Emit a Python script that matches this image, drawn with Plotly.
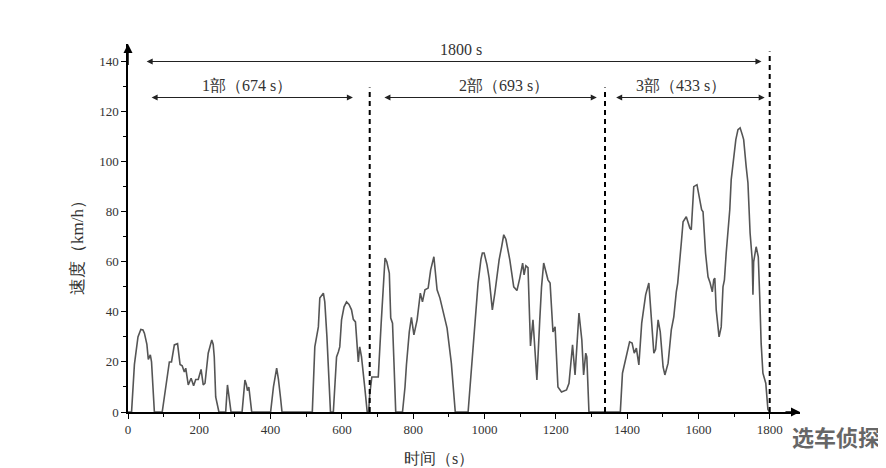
import plotly.graph_objects as go

# ---- data ----
time_s = [0, 10, 18, 22, 28, 36, 42, 46, 53, 57, 62.6, 66, 70, 74, 96, 104, 110, 116, 122, 130, 139, 143,
          146, 152, 158, 162, 166, 169, 177, 184, 190, 197, 205, 208, 211, 216, 220, 225, 235, 239, 242,
          246, 255, 274, 279, 284, 289, 320, 324, 328, 332, 335, 339, 343, 347, 400, 408, 417, 422, 428,
          432, 517, 524, 534, 538, 548, 552, 558, 564, 568, 576, 580, 585, 590, 594, 599, 606, 613, 620,
          627, 632, 638, 644, 646, 650, 655, 664, 671, 675, 678, 684, 702, 710, 717, 721, 726, 733, 737,
          742, 746, 751, 770, 777, 781, 789, 795, 802, 811, 820, 826, 833, 842, 849, 858, 864, 867, 875,
          885, 895, 907, 913, 918, 954, 966, 974, 982, 990, 994, 999, 1007, 1013, 1022, 1029, 1035, 1041,
          1048, 1054, 1060, 1066, 1071, 1082, 1091, 1099, 1107, 1111, 1116, 1122, 1129, 1136, 1142, 1147,
          1155, 1160, 1166, 1172, 1178, 1184, 1192, 1198, 1206, 1216, 1230, 1237, 1247, 1254, 1265, 1273,
          1278, 1284, 1287, 1293, 1381, 1387, 1398, 1407, 1414, 1420, 1426, 1433, 1441, 1452, 1461, 1468,
          1475, 1480, 1487, 1493, 1501, 1506, 1515, 1524, 1531, 1538, 1542, 1552, 1557, 1566, 1576, 1580,
          1587, 1596, 1604, 1609, 1613, 1620, 1627, 1633, 1639, 1643, 1646, 1650, 1658, 1664, 1669, 1673,
          1678, 1688, 1692, 1699, 1705, 1711, 1717, 1723, 1727, 1734, 1739, 1745, 1751, 1753, 1755, 1762,
          1768, 1772, 1776, 1781, 1789, 1795, 1798, 1800]
speed_kmh = [0, 0, 19, 24, 30, 33, 32.8, 31.5, 27, 21, 22.8, 20, 10, 0, 0, 8, 15, 20, 20, 26.8, 27.3, 23,
             19, 18.5, 16, 17.5, 14, 10.8, 13.5, 10.5, 13, 13, 17, 14, 10.8, 11.5, 17, 23.5, 28.8, 27, 22,
             6, 0, 0, 10.8, 6, 0, 0, 8, 12.8, 11, 8.5, 10, 5, 0, 0, 10, 17.5, 13, 5.5,
             0, 0, 26, 34, 45.5, 47.5, 44, 30, 10, 0, 0, 10, 22, 24, 26, 36.8, 42, 44, 43,
             40.8, 37, 36, 24.8, 20, 26, 22, 10, 0, 0, 7, 14, 14, 35, 55, 61.5, 60, 55.5, 37.5,
             35.5, 20, 0, 0, 10, 18.8, 32, 37.8, 30.8, 36.8, 47.5, 44, 48.8, 49.5, 56.8, 62, 54, 48.8, 45.5,
             40, 33.5, 19.5, 10, 0, 0, 22.8, 38, 51.5, 61, 63.5, 63.5, 58.8, 53.5, 40.8, 47.5, 54, 60.8,
             66, 70.8, 69, 65, 60.8, 50, 48.5, 53.5, 59.5, 54.8, 58.4, 57.7, 26.4, 36.8, 24, 12.8,
             36.8, 50, 59.5, 56, 52.8, 51.5, 32, 34, 10, 8, 8.8, 11.5, 26.8, 14.8, 39.5, 28.8,
             14.8, 23.5, 22, 0, 0, 15.5, 22, 28, 27.5, 23.5, 25.5, 18.8, 35.5, 46.8, 51.5, 38,
             23.5, 25, 36.8, 32, 18, 14.8, 19.5, 32.8, 38, 48, 51.5, 67.5, 76, 78, 73.5, 72.8,
             90, 90.8, 83.5, 80.8, 80, 63.5, 54, 51.5, 48, 52.8, 53.5, 40.8, 30, 34, 50, 52.8,
             63.5, 80.8, 92.8, 100.8, 108.8, 112.8, 113.5, 110.8, 108.8, 98, 91.5, 71.5, 60.8, 46.8, 60, 66,
             62, 46, 27.5, 15.5, 11.5, 1, 0, 0]

part_labels = ["1部（674 s）", "2部（693 s）", "3部（433 s）"]
part_starts = [62, 715, 1365]
part_ends = [631, 1315, 1786]
part_label_x = [333, 1054, 1550]
boundaries = [678, 1338, 1800]
boundary_tops = [129.6, 129.6, 144]
total_label = "1800 s"
total_start, total_end = 48, 1777

x_ticks = [0, 200, 400, 600, 800, 1000, 1200, 1400, 1600, 1800]
y_ticks = [0, 20, 40, 60, 80, 100, 120, 140]

SERIF = "Liberation Serif"
TXT = "#333333"

fig = go.Figure()
fig.add_trace(go.Scatter(x=time_s, y=speed_kmh, mode="lines",
                         line=dict(color="#555555", width=1.6), showlegend=False,
                         hoverinfo="skip"))

# dashed boundary lines
for bx, top in zip(boundaries, boundary_tops):
    fig.add_shape(type="line", x0=bx, x1=bx, y0=0, y1=top, xref="x", yref="y",
                  line=dict(color="black", width=2, dash="5px,4px"))

annotations = []
arrow_common = dict(xref="x", yref="y", axref="x", ayref="y", text="", showarrow=True,
                    arrowhead=2, arrowsize=1.1, arrowwidth=1.1, arrowcolor="#222222",
                    arrowside="end+start", startarrowhead=2, startarrowsize=1.1)
# total span arrow
annotations.append(dict(x=total_end, y=140, ax=total_start, ay=140, **arrow_common))
annotations.append(dict(x=933, y=145, xref="x", yref="y", text=total_label, showarrow=False,
                        xanchor="center", yanchor="middle",
                        font=dict(family=SERIF, size=16, color=TXT)))
# part arrows
for s, e, lab, lx in zip(part_starts, part_ends, part_labels, part_label_x):
    annotations.append(dict(x=e, y=125.6, ax=s, ay=125.6, **arrow_common))
    annotations.append(dict(x=lx, y=130.5, xref="x", yref="y", text=lab, showarrow=False,
                            xanchor="center", yanchor="middle",
                            font=dict(family=SERIF, size=16, color=TXT)))

# axis arrow heads
annotations.append(dict(x=1885, y=0, ax=1840, ay=0, xref="x", yref="y", axref="x", ayref="y",
                        text="", showarrow=True, arrowhead=2, arrowsize=1.2, arrowwidth=1.5,
                        arrowcolor="black"))
annotations.append(dict(x=0, y=147, ax=0, ay=138, xref="x", yref="y", axref="x", ayref="y",
                        text="", showarrow=True, arrowhead=2, arrowsize=1.2, arrowwidth=1.5,
                        arrowcolor="black"))

# axis titles (paper coordinates, outside plot area)
annotations.append(dict(x=-0.076, y=0.459, xref="paper", yref="paper", text="速度（km/h）",
                        xanchor="center", yanchor="middle",
                        textangle=-90, showarrow=False, font=dict(family=SERIF, size=17, color=TXT)))
annotations.append(dict(x=0.463, y=-0.125, xref="paper", yref="paper", text="时间（s）",
                        xanchor="center", yanchor="middle",
                        showarrow=False, font=dict(family=SERIF, size=16, color=TXT)))

# watermark (nudged right so it does not sit on the last tick label)
annotations.append(dict(x=1.053, y=-0.066, xref="paper", yref="paper", text="<b>选车侦探</b>",
                        xanchor="center", yanchor="middle", showarrow=False,
                        font=dict(family="Noto Sans CJK SC", size=22, color="#666666")))

# page body has an 8px margin: shrink figure by 8px and shift margins to keep plot area in place
fig.update_layout(
    width=878, height=460,
    margin=dict(l=120, r=86, t=36, b=56),
    paper_bgcolor="white", plot_bgcolor="white",
    annotations=annotations,
    xaxis=dict(range=[0, 1885], tickvals=x_ticks, ticktext=[str(v) for v in x_ticks],
               showgrid=False, zeroline=False, showline=True, linecolor="black", linewidth=1.5,
               ticks="outside", ticklen=5, tickwidth=1.2, tickcolor="black",
               minor=dict(ticks="outside", ticklen=3, dtick=100, tick0=0, tickcolor="black", tickwidth=1),
               tickfont=dict(family=SERIF, size=13, color=TXT)),
    yaxis=dict(range=[0, 147], tickvals=y_ticks, ticktext=[str(v) for v in y_ticks],
               showgrid=False, zeroline=False, showline=True, linecolor="black", linewidth=1.5,
               ticks="outside", ticklen=5, tickwidth=1.2, tickcolor="black",
               minor=dict(ticks="outside", ticklen=3, dtick=10, tick0=0, tickcolor="black", tickwidth=1),
               tickfont=dict(family=SERIF, size=13, color=TXT)),
)

fig.write_html("out.html")
